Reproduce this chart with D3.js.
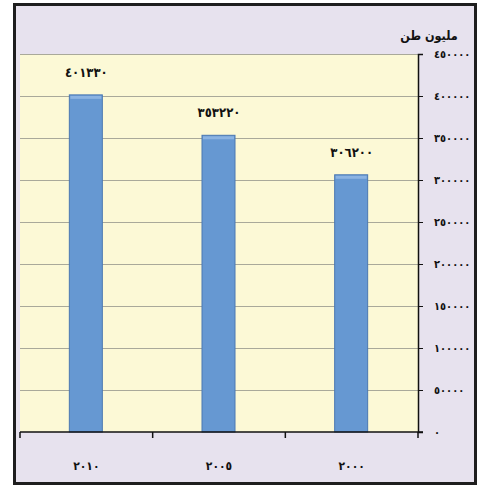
<!DOCTYPE html>
<html>
<head>
<meta charset="utf-8">
<script src="https://cdn.jsdelivr.net/npm/d3@7"></script>
<style>
  body { margin: 0; background: #fff; }
  text { font-family: "DejaVu Sans Condensed", "DejaVu Sans", sans-serif; font-weight: bold; fill: #111; }
</style>
</head>
<body>
<div id="chart"></div>
<script>
// data
var years = ["٢٠١٠", "٢٠٠٥", "٢٠٠٠"];
var values = [401330, 353220, 306200];
var valueLabels = ["٤٠١٣٣٠", "٣٥٣٢٢٠", "٣٠٦٢٠٠"];
var yTicks = [0, 50000, 100000, 150000, 200000, 250000, 300000, 350000, 400000, 450000];
var yTickLabels = ["٠", "٥٠٠٠٠", "١٠٠٠٠٠", "١٥٠٠٠٠", "٢٠٠٠٠٠", "٢٥٠٠٠٠", "٣٠٠٠٠٠", "٣٥٠٠٠٠", "٤٠٠٠٠٠", "٤٥٠٠٠٠"];
var unitLabel = "مليون طن";

var W = 481, H = 488;
var margin = {top: 54, right: 63, bottom: 56, left: 20};
var w = W - margin.left - margin.right;
var h = H - margin.top - margin.bottom;

var svg = d3.select("#chart").append("svg")
    .attr("width", W)
    .attr("height", H);

// frame
svg.append("rect")
    .attr("x", 14.5).attr("y", 4.5)
    .attr("width", 461).attr("height", 479)
    .attr("fill", "#e7e2ee")
    .attr("stroke", "#1e1e1e")
    .attr("stroke-width", 3);

var g = svg.append("g")
    .attr("transform", "translate(" + margin.left + "," + margin.top + ")");

var x = d3.scaleBand().domain(years).range([0, w]).paddingInner(0).paddingOuter(0);
var y = d3.scaleLinear().domain([0, 450000]).range([h, 0]);

// plot area
g.append("rect")
    .attr("width", w).attr("height", h)
    .attr("fill", "#fcf9d6");

// gridlines
g.selectAll(".grid")
    .data(yTicks.slice(1))
  .enter().append("line")
    .attr("x1", 0).attr("x2", w)
    .attr("y1", function(d) { return Math.round(y(d)) + 0.5; })
    .attr("y2", function(d) { return Math.round(y(d)) + 0.5; })
    .attr("stroke", "#a9a99a")
    .attr("stroke-width", 1);

// bars
var barW = 33;
var bars = g.selectAll(".bar")
    .data(values)
  .enter().append("g");

bars.append("rect")
    .attr("x", function(d, i) { return x(years[i]) + x.bandwidth() / 2 - barW / 2 - 0.5; })
    .attr("y", function(d) { return y(d); })
    .attr("width", barW)
    .attr("height", function(d) { return h - y(d); })
    .attr("fill", "#6698d2")
    .attr("stroke", "#4b78b2")
    .attr("stroke-width", 1);

bars.append("rect")
    .attr("x", function(d, i) { return x(years[i]) + x.bandwidth() / 2 - barW / 2 + 0.5; })
    .attr("y", function(d) { return y(d) + 1; })
    .attr("width", barW - 2)
    .attr("height", 3)
    .attr("fill", "#8bb3e2");

bars.append("text")
    .attr("x", function(d, i) { return x(years[i]) + x.bandwidth() / 2; })
    .attr("y", function(d) { return y(d) - 18; })
    .attr("text-anchor", "middle")
    .attr("font-size", 13)
    .text(function(d, i) { return valueLabels[i]; });

// right axis
var yAxis = d3.axisRight(y)
    .tickValues(yTicks)
    .tickSize(5)
    .tickPadding(11)
    .tickFormat(function(d, i) { return yTickLabels[i]; });

var ya = g.append("g")
    .attr("transform", "translate(" + w + ",0)")
    .call(yAxis);
ya.select(".domain").attr("stroke", "#111").attr("stroke-width", 1.5);
ya.selectAll(".tick line").attr("stroke", "#111");
ya.selectAll(".tick text")
    .attr("font-size", 11)
    .attr("text-anchor", "start")
    .attr("direction", "ltr")
    .attr("font-family", "'DejaVu Sans Condensed', 'DejaVu Sans', sans-serif")
    .attr("font-weight", "bold")
    .attr("fill", "#111");

// bottom axis
g.append("line")
    .attr("x1", 0).attr("x2", w + 5)
    .attr("y1", h).attr("y2", h)
    .attr("stroke", "#111").attr("stroke-width", 1.5);

g.selectAll(".xtick")
    .data(d3.range(years.length + 1))
  .enter().append("line")
    .attr("x1", function(d) { return d === years.length ? w : x(years[d]); })
    .attr("x2", function(d) { return d === years.length ? w : x(years[d]); })
    .attr("y1", h).attr("y2", h + 6)
    .attr("stroke", "#111").attr("stroke-width", 1.5);

g.selectAll(".xlabel")
    .data(years)
  .enter().append("text")
    .attr("x", function(d) { return x(d) + x.bandwidth() / 2; })
    .attr("y", h + 38)
    .attr("text-anchor", "middle")
    .attr("font-size", 12)
    .text(function(d) { return d; });

// unit label
svg.append("text")
    .attr("x", 429)
    .attr("y", 40)
    .attr("text-anchor", "middle")
    .attr("font-size", 12.5)
    .text(unitLabel);
</script>
</body>
</html>
